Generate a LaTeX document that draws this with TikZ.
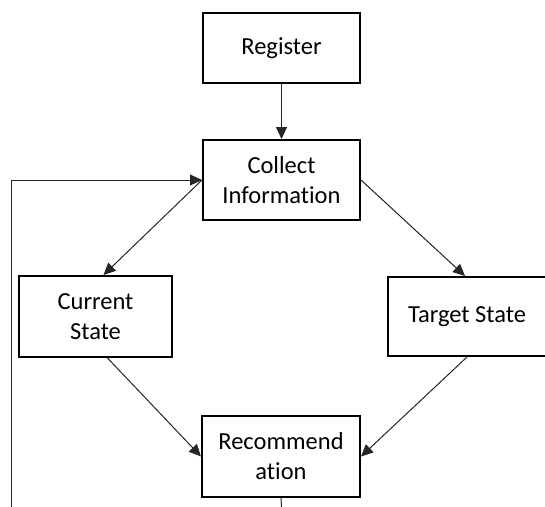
\documentclass[tikz,border=0pt]{standalone}
\usepackage{fontspec}
\setmainfont[Ligatures={NoCommon},RawFeature={-liga}]{Carlito}
\usetikzlibrary{arrows.meta}
\begin{document}
\begin{tikzpicture}[x=1pt,y=-1pt,
  box/.style={draw=black,line width=2pt,fill=white,align=center,inner sep=0pt,
    font=\fontsize{24.5}{30}\selectfont},
  conn/.style={line width=1pt,draw=black!85,-{Triangle[length=12pt,width=11pt]}},
  plain/.style={line width=1pt,draw=black!85}]
\clip (0,0) rectangle (545,506);
\fill[white] (0,0) rectangle (545,506);
\node[box,minimum width=157pt,minimum height=70pt] (reg) at (281.5,48) {Register};
\node[box,minimum width=157pt,minimum height=80pt] (col) at (281.5,180) {Collect\\Information};
\node[box,minimum width=153pt,minimum height=81pt] (cur) at (95.5,316.5) {Current\\State};
\node[box,minimum width=158pt,minimum height=79pt] (tgt) at (467,316.5) {Target State};
\node[box,minimum width=158pt,minimum height=81pt] (rec) at (281,456.5) {Recommend\\ation};
\coordinate (lb) at (11,515);
\coordinate (rb) at (282,515);
\draw[conn] (reg) -- (col);
\draw[conn] (col.west) -- ([xshift=8pt]cur.north);
\draw[conn] (col.east) -- ([xshift=-2pt]tgt.north);
\draw[conn] ([xshift=12pt]cur.south) -- (rec.west);
\draw[conn] (tgt.south) -- (rec.east);
\draw[plain] (rec.south) -- (rb);
\draw[conn] (lb) |- (col.west);
\end{tikzpicture}
\end{document}
